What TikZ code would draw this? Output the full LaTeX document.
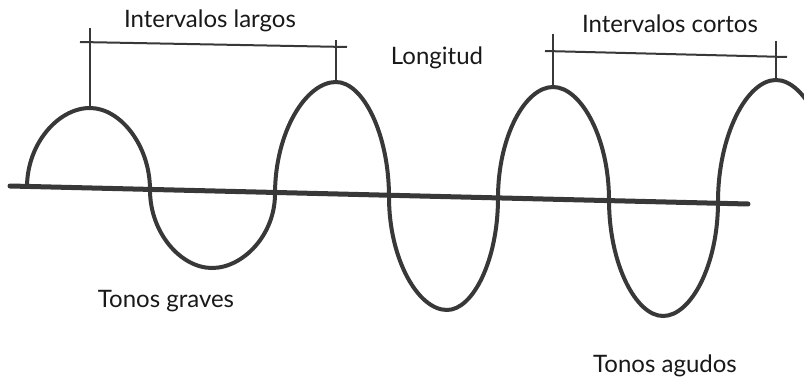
\documentclass[tikz,border=0pt]{standalone}
\usepackage{fontspec}
\setmainfont{Lato}
\definecolor{ink}{HTML}{383838}
\begin{document}
\begin{tikzpicture}[x=1pt,y=1pt,
  wave/.style={line width=4pt, draw=ink},
  axisline/.style={line width=5pt, draw=ink, line cap=round},
  bracket/.style={line width=2pt, draw=ink},
  lbl/.style={font=\fontsize{24}{26}\selectfont, inner sep=0pt, text=black!90, anchor=base}]
\fill[white] (0,0) rectangle (804,-385);
\useasboundingbox (0,0) rectangle (804,-385);
% axis
\coordinate (a0) at (10,-186);
\coordinate (a1) at (748,-204);
\draw[axisline] (a0) -- (a1);
% wave points
\coordinate (s0) at (27,-187);
\coordinate (p1) at (90,-108);
\coordinate (c1) at (150,-190);
\coordinate (t1) at (212,-268);
\coordinate (c2) at (275,-194);
\coordinate (p2) at (336,-82);
\coordinate (c3) at (389,-197);
\coordinate (t2) at (447,-310);
\coordinate (c4) at (498,-198);
\coordinate (p3) at (553,-87);
\coordinate (c5) at (609,-200);
\coordinate (t3) at (663,-316);
\coordinate (c6) at (718,-202);
\coordinate (p4) at (776,-80);
\coordinate (c7) at (834,-204);
\begin{scope}
\clip (0,0) rectangle (804,-385);
\draw[wave] (s0)
  .. controls +(0,43) and +(-32,0) .. (p1)
  .. controls +(30,0) and +(0,45) .. (c1)
  .. controls +(0,-43) and +(-31,0) .. (t1)
  .. controls +(31,0) and +(0,-41) .. (c2)
  .. controls +(0,62) and +(-30,0) .. (p2)
  .. controls +(27,0) and +(0,63) .. (c3)
  .. controls +(0,-62) and +(-29,0) .. (t2)
  .. controls +(26,0) and +(0,-62) .. (c4)
  .. controls +(0,61) and +(-28,0) .. (p3)
  .. controls +(28,0) and +(0,62) .. (c5)
  .. controls +(0,-64) and +(-27,0) .. (t3)
  .. controls +(28,0) and +(0,-63) .. (c6)
  .. controls +(0,67) and +(-29,0) .. (p4)
  .. controls +(29,0) and +(0,68) .. (c7);
\end{scope}
% brackets
\coordinate (l0) at (90,-28);
\coordinate (lh0) at (80,-42);
\coordinate (lh1) at (347,-47);
\coordinate (l1) at (336,-40);
\draw[bracket] (l0) -- (p1);
\draw[bracket] (lh0) -- (lh1);
\draw[bracket] (l1) -- (p2);
\coordinate (r0) at (553,-34);
\coordinate (rh0) at (545,-51);
\coordinate (rh1) at (787,-57);
\coordinate (r1) at (776,-41);
\draw[bracket] (r0) -- (p3);
\draw[bracket] (rh0) -- (rh1);
\draw[bracket] (r1) -- (p4);
% labels
\node[lbl] (il) at (210,-28) {Intervalos largos};
\node[lbl] (lg) at (437,-65) {Longitud};
\node[lbl] (ic) at (670,-33) {Intervalos cortos};
\node[lbl] (tg) at (166,-307) {Tonos graves};
\node[lbl] (ta) at (665,-372) {Tonos agudos};
\end{tikzpicture}
\end{document}
